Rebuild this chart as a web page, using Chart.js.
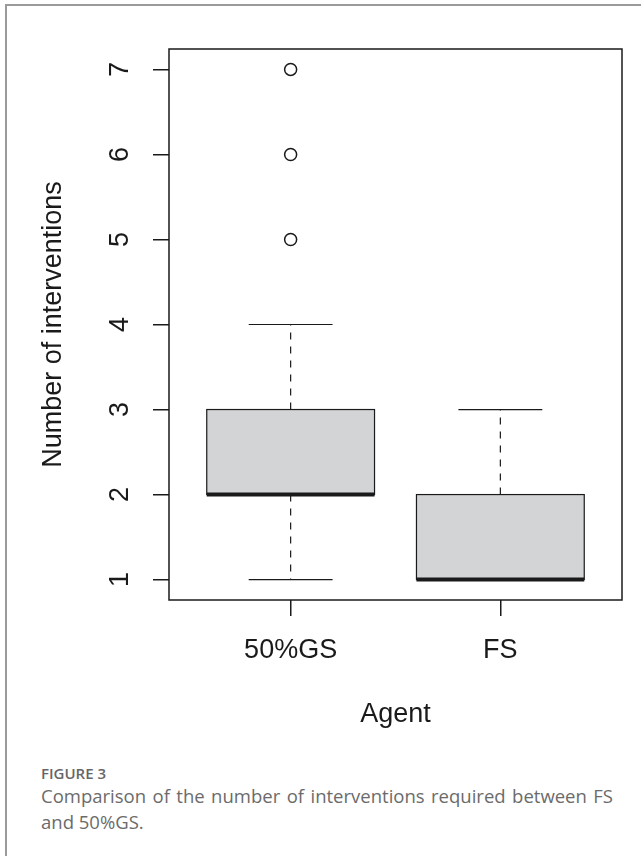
<!DOCTYPE html>
<html>
<head>
<meta charset="utf-8">
<script src="https://cdn.jsdelivr.net/npm/chart.js@4.4.1/dist/chart.umd.min.js"></script>
<style>
  body { margin: 0; background: #fff; width: 641px; height: 856px; position: relative; overflow: hidden; }
  #frame { position: absolute; left: 5px; top: 4px; width: 640px; height: 860px;
           border-left: 2px solid #9a9a9a; border-top: 2px solid #9a9a9a; }
  #chart { position: absolute; left: 0; top: 0; }
  .fig { position: absolute; left: 41px; font-family: "Open Sans", sans-serif; }
  #figLabel { top: 764px; font-size: 15px; line-height: 18px; font-weight: 600; color: #666; }
  #figText { top: 783px; width: 572px; font-size: 18.5px; line-height: 26px; color: #6b6b6b; text-align: justify; }
</style>
</head>
<body>
<div id="frame"></div>
<canvas id="chart" width="641" height="740"></canvas>
<div class="fig" id="figLabel">FIGURE 3</div>
<div class="fig" id="figText">Comparison of the number of interventions required between FS and 50%GS.</div>
<script>
// box plot values per agent
const categories = ['50%GS', 'FS'];
const whiskerLow = [1, 1];
const q1 = [2, 1];
const median = [2, 1];
const q3 = [3, 2];
const whiskerHigh = [4, 3];
const outliers = [[5, 6, 7], []];
const yTicks = [1, 2, 3, 4, 5, 6, 7];

const axisFont = { family: '"Liberation Sans", Arial, sans-serif', size: 27 };
const ink = '#1a1a1a';

// points for the outlier dataset
const outlierPoints = [];
outliers.forEach((vals, i) => vals.forEach(v => outlierPoints.push({ x: i + 1, y: v })));

// draws the boxes, whiskers and medians with the chart's scales
const boxPlugin = {
    id: 'boxes',
    beforeDatasetsDraw(chart) {
        const { ctx, scales: { x, y } } = chart;
        ctx.save();
        categories.forEach((cat, i) => {
            const c = i + 1;
            const left = x.getPixelForValue(c - 0.4);
            const right = x.getPixelForValue(c + 0.4);
            const capL = x.getPixelForValue(c - 0.2);
            const capR = x.getPixelForValue(c + 0.2);
            const cx = x.getPixelForValue(c);
            const yq1 = y.getPixelForValue(q1[i]);
            const yq3 = y.getPixelForValue(q3[i]);
            const yLo = y.getPixelForValue(whiskerLow[i]);
            const yHi = y.getPixelForValue(whiskerHigh[i]);
            const yMed = y.getPixelForValue(median[i]);

            // whiskers
            ctx.strokeStyle = ink;
            ctx.lineWidth = 1.2;
            ctx.setLineDash([7, 7]);
            ctx.beginPath();
            ctx.moveTo(cx, yq3); ctx.lineTo(cx, yHi);
            ctx.moveTo(cx, yq1); ctx.lineTo(cx, yLo);
            ctx.stroke();
            ctx.setLineDash([]);
            ctx.beginPath();
            ctx.moveTo(capL, yHi); ctx.lineTo(capR, yHi);
            ctx.moveTo(capL, yLo); ctx.lineTo(capR, yLo);
            ctx.stroke();

            // box
            ctx.fillStyle = 'rgb(211,212,214)';
            ctx.fillRect(left, yq3, right - left, yq1 - yq3);
            ctx.lineWidth = 1.2;
            ctx.strokeRect(left, yq3, right - left, yq1 - yq3);

            // median
            ctx.lineWidth = 4;
            ctx.beginPath();
            ctx.moveTo(left, yMed); ctx.lineTo(right, yMed);
            ctx.stroke();
        });
        ctx.restore();
    },
    afterDraw(chart) {
        const { ctx, chartArea: a } = chart;
        ctx.save();
        ctx.strokeStyle = ink;
        ctx.lineWidth = 1.5;
        ctx.strokeRect(a.left, a.top, a.right - a.left, a.bottom - a.top);
        ctx.restore();
    }
};

new Chart(document.getElementById('chart'), {
    type: 'scatter',
    data: {
        datasets: [{
            data: outlierPoints,
            pointStyle: 'circle',
            pointRadius: 6,
            borderColor: ink,
            borderWidth: 1.5,
            backgroundColor: 'rgba(0,0,0,0)'
        }]
    },
    options: {
        responsive: false,
        animation: false,
        layout: { padding: { top: 49, right: 19, left: 0, bottom: 0 } },
        plugins: { legend: { display: false }, tooltip: { enabled: false } },
        scales: {
            x: {
                type: 'linear',
                min: 0.42,
                max: 2.58,
                afterBuildTicks: s => { s.ticks = categories.map((c, i) => ({ value: i + 1 })); },
                afterFit: s => { s.height = 140; },
                border: { display: false },
                grid: { drawOnChartArea: false, tickLength: 16, color: ink, lineWidth: 1.5 },
                ticks: {
                    padding: 18,
                    color: ink,
                    font: axisFont,
                    maxRotation: 0,
                    callback: v => categories[v - 1]
                },
                title: { display: true, text: 'Agent', color: ink, font: axisFont, padding: { top: 0, bottom: 9 } }
            },
            y: {
                type: 'linear',
                min: 0.76,
                max: 7.24,
                afterBuildTicks: s => { s.ticks = yTicks.map(v => ({ value: v })); },
                afterFit: s => { s.width = 169; },
                border: { display: false },
                grid: { drawOnChartArea: false, tickLength: 16, color: ink, lineWidth: 1.5 },
                ticks: {
                    padding: 25,
                    color: ink,
                    font: axisFont,
                    minRotation: 90,
                    maxRotation: 90,
                    crossAlign: 'center'
                },
                title: { display: true, text: 'Number of interventions', color: ink, font: axisFont, padding: { top: 37, bottom: 0 } }
            }
        }
    },
    plugins: [boxPlugin]
});
</script>
</body>
</html>
